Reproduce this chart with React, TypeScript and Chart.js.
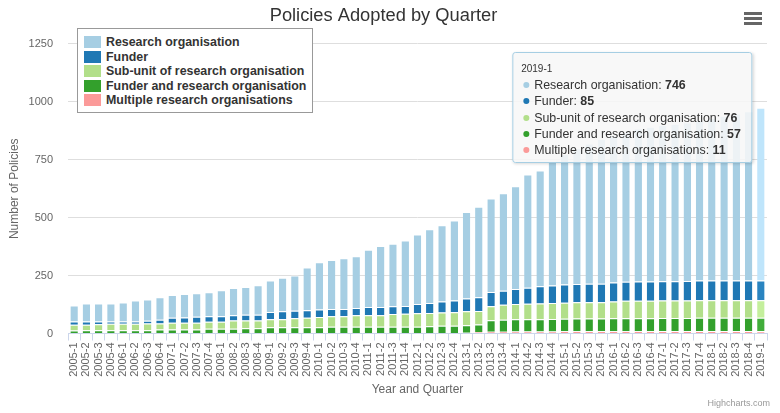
import React, { useEffect, useRef } from "react";
import { Chart, registerables } from "chart.js";

Chart.register(...registerables);

const FONT = '"Liberation Sans", Arial, Helvetica, sans-serif';

const quarters = [
  "2005-1", "2005-2", "2005-3", "2005-4", "2006-1", "2006-2", "2006-3", "2006-4",
  "2007-1", "2007-2", "2007-3", "2007-4", "2008-1", "2008-2", "2008-3", "2008-4",
  "2009-1", "2009-2", "2009-3", "2009-4", "2010-1", "2010-2", "2010-3", "2010-4",
  "2011-1", "2011-2", "2011-3", "2011-4", "2012-1", "2012-2", "2012-3", "2012-4",
  "2013-1", "2013-2", "2013-3", "2013-4", "2014-1", "2014-2", "2014-3", "2014-4",
  "2015-1", "2015-2", "2015-3", "2015-4", "2016-1", "2016-2", "2016-3", "2016-4",
  "2017-1", "2017-2", "2017-3", "2017-4", "2018-1", "2018-2", "2018-3", "2018-4",
  "2019-1",
];

const researchOrg = [
  69, 77, 78, 78, 82, 91, 92, 97, 98, 101, 102, 104, 113, 117, 120, 127,
  136, 145, 152, 185, 204, 211, 219, 224, 248, 264, 269, 282, 300, 318, 329, 345,
  374, 390, 404, 421, 444, 488, 500, 538, 563, 586, 605, 625, 635, 647, 661, 669,
  674, 679, 685, 691, 701, 711, 721, 731, 746,
];
const funder = [
  14, 14, 12, 10, 10, 10, 12, 16, 22, 23, 26, 23, 23, 23, 25, 25,
  31, 34, 32, 32, 33, 31, 31, 31, 35, 35, 34, 34, 40, 43, 47, 51,
  55, 60, 61, 61, 65, 70, 75, 75, 79, 79, 80, 80, 82, 82, 83, 83,
  83, 83, 84, 85, 85, 85, 85, 85, 85,
];
const subUnit = [
  25, 24, 26, 28, 28, 28, 29, 26, 29, 29, 29, 30, 30, 35, 33, 33,
  35, 35, 39, 41, 44, 46, 46, 50, 50, 50, 55, 56, 58, 58, 58, 59,
  60, 58, 61, 65, 66, 67, 67, 69, 69, 70, 70, 70, 72, 75, 75, 75,
  76, 76, 76, 76, 76, 76, 76, 76, 76,
];
const funderAndResearch = [
  13, 14, 14, 14, 14, 14, 14, 17, 17, 17, 17, 21, 21, 21, 23, 23,
  27, 27, 27, 27, 27, 29, 29, 29, 29, 29, 29, 29, 29, 31, 33, 33,
  33, 33, 49, 51, 52, 52, 53, 54, 54, 55, 55, 55, 56, 56, 56, 56,
  56, 56, 56, 57, 57, 57, 57, 57, 57,
];
const multipleResearch = [
  0, 0, 0, 0, 0, 0, 0, 0, 0, 0, 0, 0, 0, 0, 0, 0,
  0, 0, 0, 0, 0, 0, 0, 0, 0, 0, 0, 0, 0, 0, 0, 0,
  3, 6, 8, 8, 9, 9, 9, 9, 10, 10, 10, 10, 10, 10, 10, 10,
  11, 11, 11, 11, 11, 11, 11, 11, 11,
];

const yMax = 1250;
const yStep = 250;

// bottom of the stack first, as Chart.js stacks in dataset order
const series = [
  { label: "Multiple research organisations", data: multipleResearch, color: "#fb9a99", hover: "#ffb3b2" },
  { label: "Funder and research organisation", data: funderAndResearch, color: "#33a02c", hover: "#41ad3a" },
  { label: "Sub-unit of research organisation", data: subUnit, color: "#b2df8a", hover: "#c4ef9c" },
  { label: "Funder", data: funder, color: "#1f78b4", hover: "#2a84c0" },
  { label: "Research organisation", data: researchOrg, color: "#a6cee3", hover: "#bfe5fb" },
];

const App: React.FC = () => {
  const canvasRef = useRef<HTMLCanvasElement | null>(null);
  const tipRef = useRef<HTMLDivElement | null>(null);

  useEffect(() => {
    if (!canvasRef.current) return;

    const renderTooltip = (context: any) => {
      const { chart, tooltip } = context;
      const el = tipRef.current;
      if (!el) return;
      if (!tooltip.opacity) {
        el.style.opacity = "0";
        return;
      }
      const points = [...tooltip.dataPoints].sort((a: any, b: any) => b.datasetIndex - a.datasetIndex);
      const rows = points
        .map(
          (p: any) =>
            `<div style="height:16.3px;line-height:16.3px;white-space:nowrap">` +
            `<span style="display:inline-block;width:6px;height:6px;border-radius:50%;background:${p.dataset.backgroundColor};margin:0 5px 1px 2px;vertical-align:middle"></span>` +
            `${p.dataset.label}: <b>${p.raw}</b></div>`
        )
        .join("");
      el.innerHTML =
        `<div style="font-size:10px;height:16px;line-height:16px">${tooltip.title[0]}</div>` + rows;
      el.style.opacity = "1";
      el.style.left = tooltip.caretX - 9 + "px";
      el.style.top = chart.chartArea.top + 8 + "px";
    };

    const chart = new Chart(canvasRef.current, {
      type: "bar",
      data: {
        labels: quarters,
        datasets: series.map((s) => ({
          label: s.label,
          data: s.data,
          backgroundColor: s.color,
          hoverBackgroundColor: s.hover,
          borderColor: "#ffffff",
          hoverBorderColor: "#ffffff",
          borderWidth: { top: 1, left: 0, right: 0, bottom: 0 },
          categoryPercentage: 0.8,
          barPercentage: 0.76,
        })),
      },
      options: {
        animation: false,
        responsive: true,
        maintainAspectRatio: false,
        events: [],
        layout: { padding: { left: 0, right: 13, top: 0, bottom: 0 } },
        plugins: {
          legend: { display: false },
          title: {
            display: true,
            text: "Policies Adopted by Quarter",
            color: "#333333",
            font: { size: 18.3, family: FONT, weight: "normal" },
            padding: { top: 5, bottom: 17 },
          },
          tooltip: {
            enabled: false,
            mode: "index",
            intersect: false,
            external: renderTooltip,
          },
        },
        scales: {
          x: {
            stacked: true,
            grid: {
              drawOnChartArea: false,
              drawTicks: true,
              tickLength: 7,
              color: "#ccd6eb",
              offset: true,
            },
            border: { color: "#ccd6eb" },
            ticks: {
              autoSkip: false,
              minRotation: 90,
              maxRotation: 90,
              padding: 2,
              color: "#666666",
              font: { size: 11, family: FONT },
            },
            title: {
              display: true,
              text: "Year and Quarter",
              color: "#666666",
              font: { size: 12, family: FONT },
              padding: { top: 4, bottom: 16 },
            },
            afterFit: (scale: any) => {
              scale.height = 79.5;
            },
          },
          y: {
            stacked: true,
            min: 0,
            max: yMax,
            grid: { color: "#dedede", drawTicks: false },
            border: { display: false },
            ticks: {
              stepSize: yStep,
              padding: 15,
              color: "#666666",
              font: { size: 11, family: FONT },
              callback: (value: any) => String(value),
            },
            title: {
              display: true,
              text: "Number of Policies",
              color: "#666666",
              font: { size: 12, family: FONT },
              padding: { top: 7, bottom: 0 },
            },
            afterFit: (scale: any) => {
              scale.width = 68;
            },
          },
        },
      },
    });

    // show the hovered state of the last quarter, as in the screenshot
    const last = quarters.length - 1;
    const active = series.map((_, i) => ({ datasetIndex: i, index: last })).reverse();
    chart.setActiveElements(active);
    const meta = chart.getDatasetMeta(series.length - 1).data[last] as any;
    chart.tooltip?.setActiveElements(active, { x: meta.x, y: meta.y });
    chart.update();

    return () => {
      chart.destroy();
    };
  }, []);

  const legendItems = [...series].reverse();

  return (
    <div
      style={{
        position: "absolute",
        left: 0,
        top: 0,
        width: 780,
        height: 413,
        background: "#ffffff",
        fontFamily: FONT,
      }}
    >
      <canvas ref={canvasRef} />
      <div
        style={{
          position: "absolute",
          left: 77,
          top: 28,
          width: 234,
          height: 77,
          border: "1px solid #999999",
          background: "#ffffff",
          paddingTop: 6,
          boxSizing: "content-box",
        }}
      >
        {legendItems.map((s) => (
          <div
            key={s.label}
            style={{
              height: 14.5,
              lineHeight: "14.5px",
              fontSize: 12.4,
              fontWeight: "bold",
              color: "#333333",
              whiteSpace: "nowrap",
              display: "flex",
              alignItems: "center",
            }}
          >
            <span
              style={{
                display: "inline-block",
                width: 17,
                height: 12,
                background: s.color,
                marginLeft: 6,
                marginRight: 5,
              }}
            />
            {s.label}
          </div>
        ))}
      </div>
      <div
        ref={tipRef}
        style={{
          position: "absolute",
          opacity: 0,
          transform: "translateX(-100%)",
          background: "rgba(247,247,247,0.88)",
          border: "1px solid #a6cee3",
          borderRadius: 3,
          boxShadow: "1px 1px 3px rgba(0,0,0,0.15)",
          padding: "8px 10px 4px 8px",
          fontSize: 12.4,
          color: "#333333",
          pointerEvents: "none",
        }}
      />
      {[12, 17, 22].map((t) => (
        <div
          key={t}
          style={{
            position: "absolute",
            left: 744,
            top: t,
            width: 18,
            height: 3,
            background: "#666666",
          }}
        />
      ))}
      <div
        style={{
          position: "absolute",
          right: 10,
          top: 398,
          fontSize: 9,
          color: "#999999",
        }}
      >
        Highcharts.com
      </div>
    </div>
  );
};

export default App;
